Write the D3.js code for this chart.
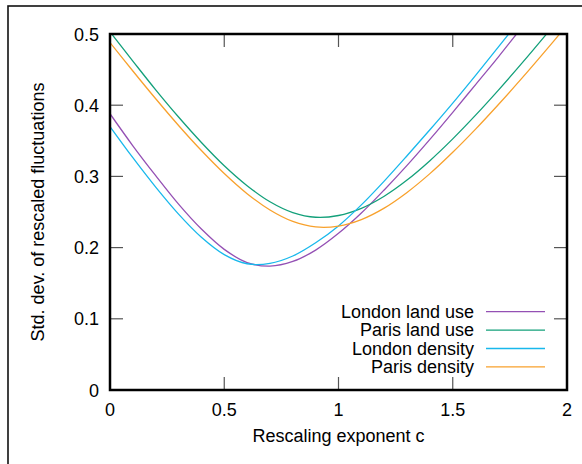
<!DOCTYPE html>
<html>
<head>
<meta charset="utf-8">
<script src="https://cdn.jsdelivr.net/npm/d3@7"></script>
<style>
  html, body { margin: 0; padding: 0; background: #fff; }
  svg { display: block; }
  text { font-family: "Liberation Sans", Arial, Helvetica, sans-serif; fill: #000; }
</style>
</head>
<body>
<svg id="chart" width="582" height="464"></svg>
<script>
// ---- data ----
const cValues = [0, 0.1, 0.2, 0.3, 0.4, 0.5, 0.6, 0.7, 0.8, 0.9, 1.0,
                 1.1, 1.2, 1.3, 1.4, 1.5, 1.6, 1.7, 1.8, 1.9, 2.0];
const londonLandUse = [0.388, 0.343, 0.301, 0.261, 0.226, 0.1975, 0.179, 0.174, 0.1805, 0.1965, 0.220,
                       0.2485, 0.281, 0.3155, 0.352, 0.390, 0.429, 0.468, 0.5085, 0.549, 0.590];
const parisLandUse  = [0.503, 0.462, 0.4216, 0.3834, 0.3477, 0.315, 0.287, 0.2644, 0.2492, 0.2426, 0.2451,
                       0.2552, 0.2722, 0.2949, 0.3221, 0.3527, 0.386, 0.4212, 0.458, 0.496, 0.535];
const londonDensity = [0.370, 0.3263, 0.285, 0.2471, 0.2146, 0.1902, 0.1773, 0.1778, 0.1882, 0.2068, 0.2305,
                       0.260, 0.2934, 0.329, 0.3655, 0.403, 0.442, 0.482, 0.522, 0.562, 0.602];
const parisDensity  = [0.488, 0.448, 0.409, 0.3715, 0.3363, 0.304, 0.2757, 0.2528, 0.2367, 0.229, 0.2302,
                       0.2394, 0.2555, 0.2775, 0.3039, 0.3339, 0.3664, 0.401, 0.4369, 0.4742, 0.5123];
const seriesNames = ["London land use", "Paris land use", "London density", "Paris density"];
const seriesColors = ["#9450b4", "#13a07a", "#18b8ec", "#f8a12c"];
const xTicks = [0, 0.5, 1, 1.5, 2];
const xTickLabels = ["0", "0.5", "1", "1.5", "2"];
const yTicks = [0, 0.1, 0.2, 0.3, 0.4, 0.5];
const yTickLabels = ["0", "0.1", "0.2", "0.3", "0.4", "0.5"];
const xTitle = "Rescaling exponent c";
const yTitle = "Std. dev. of rescaled fluctuations";

const seriesValues = [londonLandUse, parisLandUse, londonDensity, parisDensity];

// ---- layout ----
const svg = d3.select("#chart");
const L = 110, R = 567, T = 34, B = 390;
const x = d3.scaleLinear().domain([0, 2]).range([L, R]);
const y = d3.scaleLinear().domain([0, 0.5]).range([B, T]);

// outer frame (extends beyond the picture on right/bottom)
svg.append("rect")
  .attr("x", 8).attr("y", 6).attr("width", 600).attr("height", 500)
  .attr("fill", "none").attr("stroke", "#111").attr("stroke-width", 1.6);

svg.append("defs").append("clipPath").attr("id", "plotclip")
  .append("rect").attr("x", L).attr("y", T).attr("width", R - L).attr("height", B - T);

// ticks (mirrored on all four sides)
const tickLen = 13;
const tg = svg.append("g").attr("stroke", "#555").attr("stroke-width", 1.2);
xTicks.forEach(v => {
  if (v === 0 || v === 2) return;
  tg.append("line").attr("x1", x(v)).attr("x2", x(v)).attr("y1", B).attr("y2", B - tickLen);
  tg.append("line").attr("x1", x(v)).attr("x2", x(v)).attr("y1", T).attr("y2", T + tickLen);
});
yTicks.forEach(v => {
  if (v === 0 || v === 0.5) return;
  tg.append("line").attr("x1", L).attr("x2", L + tickLen).attr("y1", y(v)).attr("y2", y(v));
  tg.append("line").attr("x1", R).attr("x2", R - tickLen).attr("y1", y(v)).attr("y2", y(v));
});

// tick labels
svg.append("g").selectAll("text").data(xTicks).join("text")
  .attr("x", d => x(d)).attr("y", 416)
  .attr("text-anchor", "middle").attr("font-size", 18)
  .text((d, i) => xTickLabels[i]);
svg.append("g").selectAll("text").data(yTicks).join("text")
  .attr("x", 99).attr("y", d => y(d) + 6.5)
  .attr("text-anchor", "end").attr("font-size", 18)
  .text((d, i) => yTickLabels[i]);

// axis titles
svg.append("text").attr("x", (L + R) / 2).attr("y", 442)
  .attr("text-anchor", "middle").attr("font-size", 18).text(xTitle);
svg.append("text").attr("transform", `translate(44,${(T + B) / 2}) rotate(-90)`)
  .attr("text-anchor", "middle").attr("font-size", 18).text(yTitle);

// curves
const line = d3.line()
  .x((d, i) => x(cValues[i]))
  .y(d => y(d))
  .curve(d3.curveCatmullRom.alpha(0.5));
const cg = svg.append("g").attr("clip-path", "url(#plotclip)");
seriesValues.forEach((vals, k) => {
  cg.append("path").datum(vals)
    .attr("d", line)
    .attr("fill", "none")
    .attr("stroke", seriesColors[k])
    .attr("stroke-width", 1.3);
});

// legend
const legY0 = 311.7, legDy = 18.4;
seriesNames.forEach((name, k) => {
  const ly = legY0 + k * legDy;
  svg.append("text").attr("x", 474).attr("y", ly + 6)
    .attr("text-anchor", "end").attr("font-size", 18).text(name);
  svg.append("line").attr("x1", 486).attr("x2", 545).attr("y1", ly).attr("y2", ly)
    .attr("stroke", seriesColors[k]).attr("stroke-width", 1.3);
});

// plot border
svg.append("rect").attr("x", L).attr("y", T).attr("width", R - L).attr("height", B - T)
  .attr("fill", "none").attr("stroke", "#000").attr("stroke-width", 2.5);
</script>
</body>
</html>
